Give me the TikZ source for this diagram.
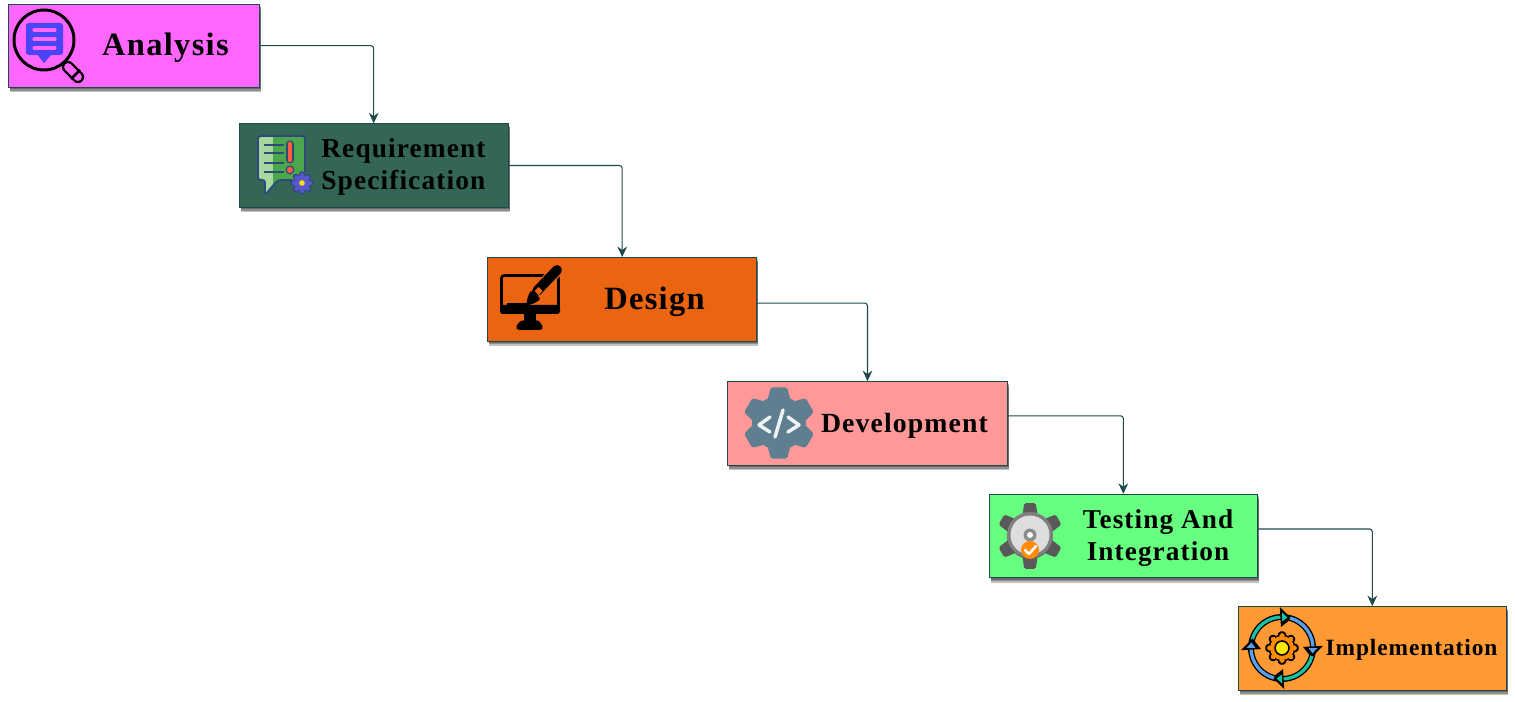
\documentclass[tikz,border=0pt]{standalone}
\usepackage{fontspec}
\setmainfont{Liberation Serif}[LetterSpace=4]
\usetikzlibrary{arrows.meta,shadows}

\definecolor{linkcol}{HTML}{1F4A4A}
\definecolor{analysiscol}{HTML}{FF66FF}
\definecolor{reqcol}{HTML}{336655}
\definecolor{designcol}{HTML}{EA6412}
\definecolor{devcol}{HTML}{FF9999}
\definecolor{testcol}{HTML}{66FF80}
\definecolor{implcol}{HTML}{FF9933}
\definecolor{navycol}{HTML}{2F4A7A}
\definecolor{tealcol}{HTML}{1DC0A0}
\definecolor{skycol}{HTML}{5AA0E8}
\definecolor{lensblue}{HTML}{4A44F5}
\definecolor{paleleaf}{HTML}{A8D8A0}
\definecolor{leaf}{HTML}{4CA64C}
\definecolor{slatecol}{HTML}{5F7F90}

\tikzset{
    softshadow/.style={drop shadow={shadow xshift=0.03cm, shadow yshift=-#1, opacity=0.25, fill=black}},
    stagebox/.style={draw=linkcol, line width=0.45pt, inner sep=0pt, minimum height=1.67cm,
        softshadow=0.1cm, softshadow=0.07cm, softshadow=0.04cm},
    stagetext/.style={align=center, inner sep=0pt, text=black},
    link/.style={draw=linkcol, line width=0.6pt, rounded corners=1.5pt,
        -{Stealth[length=6pt,width=5.5pt]}},
}

% x, y, body radius, tooth radius, half angle of a tooth, colour, tooth angles
\newcommand{\cogwheel}[7]{
    \foreach \a in {#7}
        \fill[#6, rounded corners=1pt] (#1,#2) +(\a-2*#5:#3-1) -- +(\a-#5:#4) -- +(\a+#5:#4) -- +(\a+2*#5:#3-1) -- cycle;
    \fill[#6] (#1,#2) circle (#3);
}

\begin{document}
\begin{tikzpicture}[x=0.02cm, y=-0.02cm]
    \useasboundingbox (0,0) rectangle (1515,702);

    \node[stagebox, fill=analysiscol, minimum width=5.02cm] (analysis) at (134,45.7) {};
    \node[stagebox, fill=reqcol, minimum width=5.38cm] (req) at (373.7,165.5) {};
    \node[stagebox, fill=designcol, minimum width=5.38cm] (design) at (622.2,299.2) {};
    \node[stagebox, fill=devcol, minimum width=5.6cm] (dev) at (867.5,423.3) {};
    \node[stagebox, fill=testcol, minimum width=5.36cm] (test) at (1123.3,536) {};
    \node[stagebox, fill=implcol, minimum width=5.37cm] (impl) at (1372.3,648.3) {};

    \node[stagetext, font=\bfseries\fontsize{18.5}{21}\selectfont] (analysislabel) at (165.5,48) {Analysis};
    \node[stagetext, align=left, font=\bfseries\fontsize{15.6}{18.1}\selectfont] (reqlabel) at (403.5,167) {Requirement\\Specification};
    \node[stagetext, font=\bfseries\fontsize{18.5}{21}\selectfont] (designlabel) at (654.5,302) {Design};
    \node[stagetext, font=\bfseries\fontsize{15.8}{18}\selectfont] (devlabel) at (904.5,426) {Development};
    \node[stagetext, font=\bfseries\fontsize{15.5}{18.1}\selectfont] (testlabel) at (1158,538) {Testing And\\Integration};
    \node[stagetext, font=\bfseries\fontsize{13.3}{15}\selectfont] (impllabel) at (1411.5,650) {Implementation};

    \draw[link] (analysis.east) -| (req.north);
    \draw[link] (req.east) -| (design.north);
    \draw[link] ([yshift=-0.08cm]design.east) -| (dev.north);
    \draw[link] ([yshift=0.15cm]dev.east) -| (test.north);
    \draw[link] ([yshift=0.14cm]test.east) -| (impl.north);

    % analysis icon
    \fill[lensblue, rounded corners=1.5pt] (26,23) rectangle (63,55);
    \fill[lensblue] (37,54) -- (44,63) -- (52,54) -- cycle;
    \foreach \y in {30,39,48}
        \draw[analysiscol, line width=1.8pt, line cap=round] (34,\y) -- (55,\y);
    \draw[black, line width=1.7pt] (44,40) circle (30);
    \draw[black, line width=7pt, line cap=round] (68,67) -- (78,77);
    \draw[analysiscol, line width=4.4pt, line cap=round] (68,67) -- (78,77);
    \draw[black, line width=1.5pt] (71,79) -- (80,70);

    % requirement icon
    \fill[paleleaf] (258,136) -- (273,136) -- (273,186) -- (265,195) -- (265,180) -- (258,180) -- cycle;
    \fill[leaf] (273,136) -- (305,136) -- (305,180) -- (278,180) -- (273,186) -- cycle;
    \draw[navycol, line width=1.1pt, rounded corners=1.5pt] (305,172) -- (305,136) -- (258,136) -- (258,180) -- (265,180) -- (265,195) -- (278,180) -- (292,180);
    \foreach \y in {145,153,163,172}
        \draw[navycol, line width=1.1pt] (264,\y) -- (284,\y);
    \draw[navycol, line width=4pt, line cap=round] (290,144) -- (290,160);
    \draw[red!70!orange!75!white, line width=2.6pt, line cap=round] (290,144) -- (290,160);
    \fill[red!70!orange!75!white, draw=navycol, line width=0.7pt] (290,170) circle (3.8);
    \cogwheel{302}{183}{8.5}{12}{13}{navycol}{0,45,...,315}
    \cogwheel{302}{183}{7.5}{10.5}{11}{blue!55!gray!85!white}{0,45,...,315}
    \fill[yellow!85!orange] (302,183) circle (2.8);

    % design icon
    \draw[black, line width=1.5pt, rounded corners=1.5pt] (501.5,275.5) rectangle (558.5,310);
    \fill[black, rounded corners=1.5pt] (500,305) rectangle (560,314);
    \fill[black] (524,314) rectangle (536,321);
    \fill[black, rounded corners=2.5pt] (515,330) -- (518,322) -- (524,320) -- (536,320) -- (541,322) -- (544,330) -- cycle;
    \draw[black, line width=1.3pt] (507,304) -- (530,304);
    \draw[designcol, line width=7pt, line cap=round] (557,270) -- (537,291);
    \draw[black, line width=5.6pt, line cap=round] (557,270) -- (537,291);
    \fill[black, rounded corners=1.5pt] (531,290) -- (541,299) -- (533,304) -- (526,305) -- (528,296) -- cycle;
    \fill[designcol] (538.5,287) -- (542.5,291) -- (538.5,295) -- (534.5,291) -- cycle;

    % development icon
    \cogwheel{779}{423}{27}{36.5}{13}{slatecol}{-90,-30,30,90,150,210}
    \draw[white!90!slatecol, line width=2pt, line cap=round, line join=round] (770,417) -- (759,425) -- (770,432);
    \draw[white!90!slatecol, line width=2pt, line cap=round] (783,410) -- (775,437);
    \draw[white!90!slatecol, line width=2pt, line cap=round, line join=round] (788,417) -- (799,425) -- (788,432);

    % testing icon
    \cogwheel{1030}{536}{23}{33.5}{10}{black!65}{-90,-30,30,90,150,210}
    \fill[black!50] (1030,535) circle (23);
    \fill[black!13] (1030,535) circle (19.5);
    \fill[black!45] (1030,535) circle (6.5);
    \fill[white] (1030,535) circle (3);
    \fill[orange!90!yellow] (1030,550) circle (9);
    \draw[white, line width=1.5pt, line cap=round, line join=round] (1025,550) -- (1029,554) -- (1036,546);

    % implementation icon
    \draw[black, line width=3.4pt] (1282,648) circle (31);
    \foreach \a/\c in {270/tealcol, 0/skycol, 90/tealcol, 180/skycol} {
        \draw[\c, line width=1.9pt] (1282,648) ++(\a-75:31) arc[start angle=\a-75, end angle=\a+2, radius=31];
        \fill[black] (1282,648) +(\a-3:21) -- +(\a+18:31) -- +(\a-3:41) -- cycle;
        \fill[\c] (1282,648) +(\a:26.5) -- +(\a+10:31) -- +(\a:35.5) -- cycle;
    }
    \cogwheel{1282}{648}{13.5}{17}{11}{black}{0,45,...,315}
    \cogwheel{1282}{648}{12}{15}{8}{orange!90!yellow}{0,45,...,315}
    \fill[yellow!90!orange, draw=black, line width=0.9pt] (1282,648) circle (7);
\end{tikzpicture}
\end{document}
